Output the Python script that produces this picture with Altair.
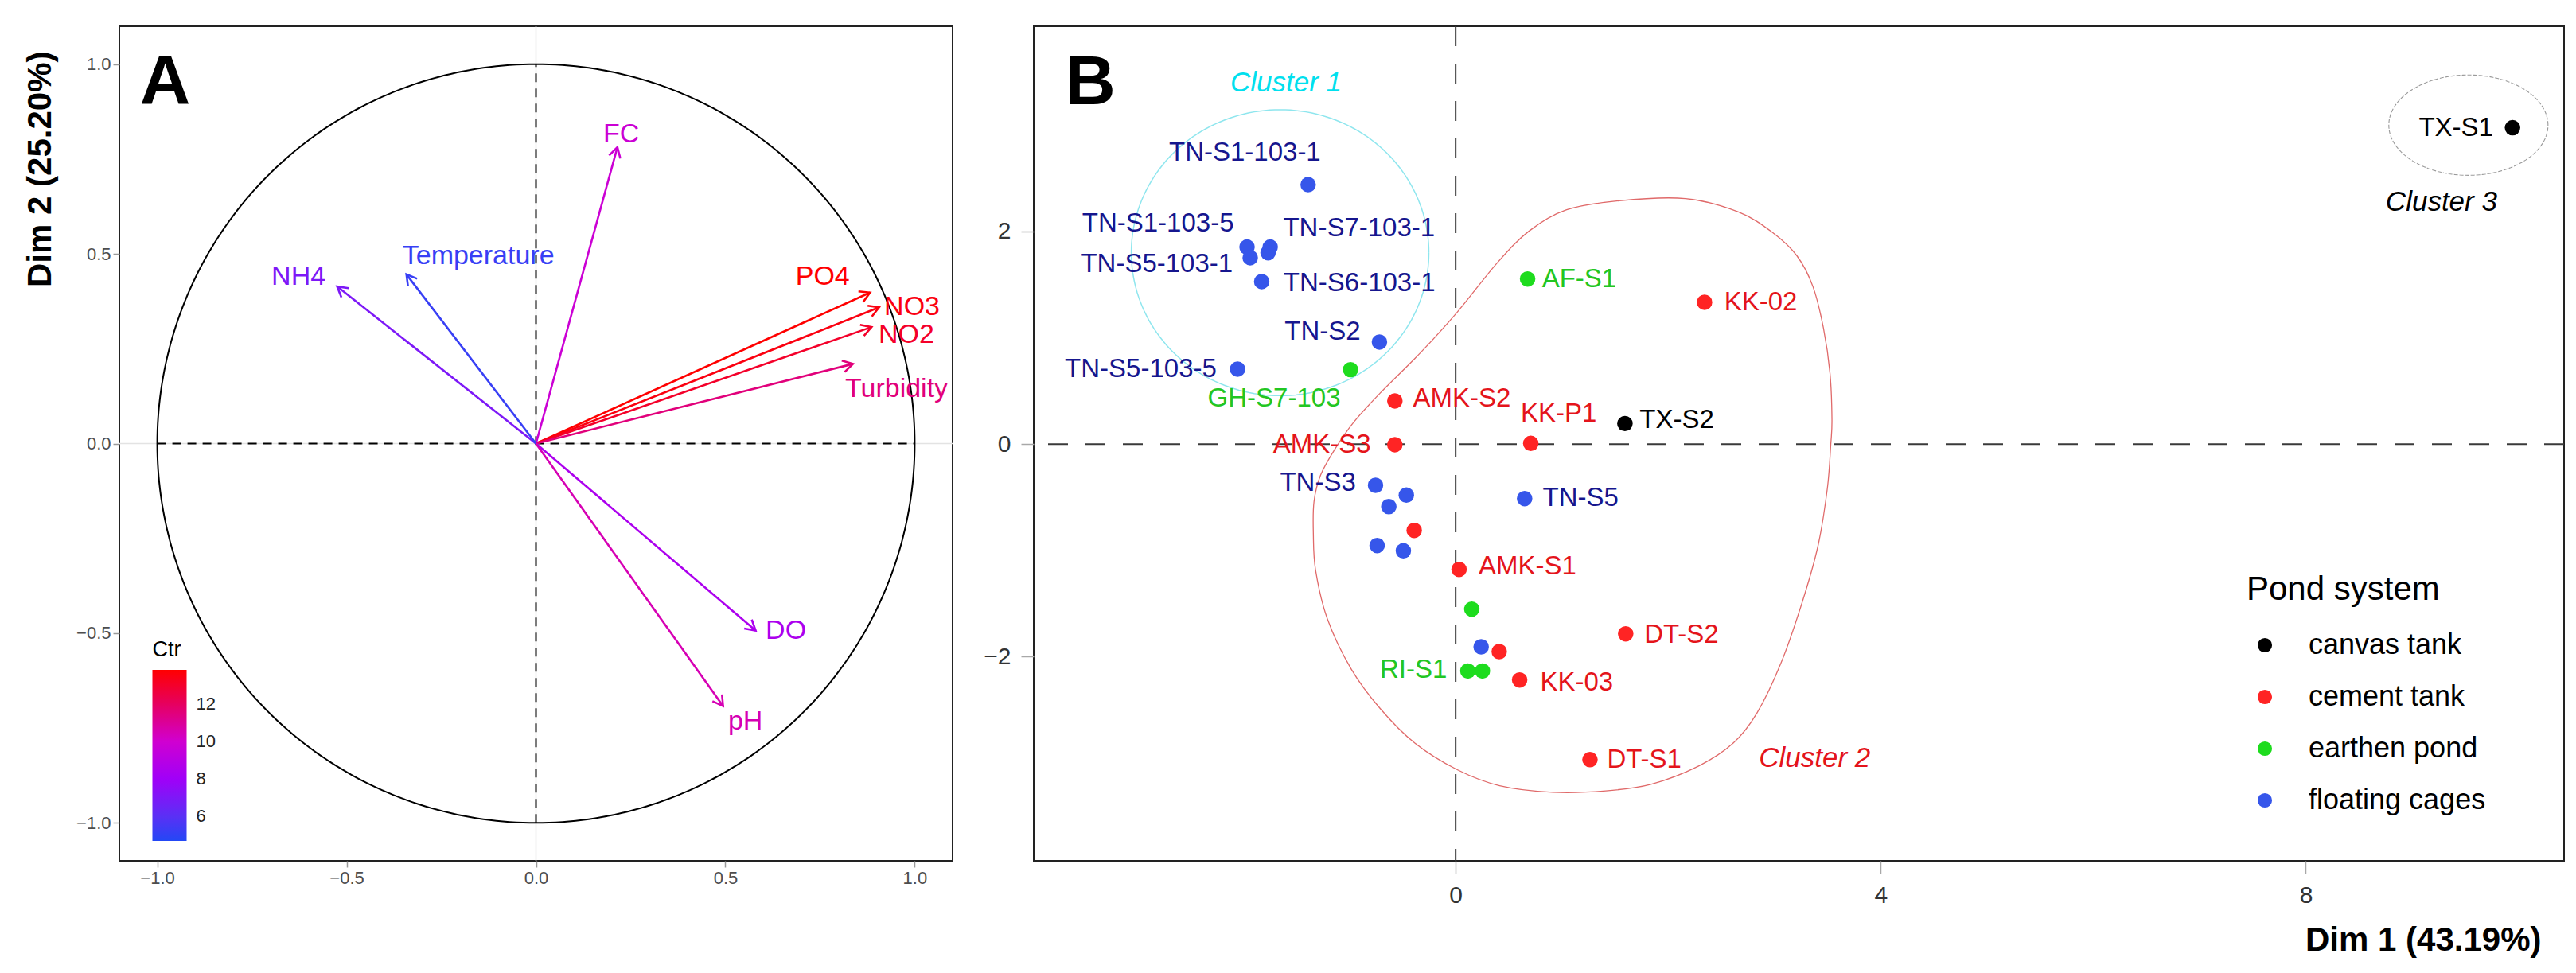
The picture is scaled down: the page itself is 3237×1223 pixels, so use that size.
import numpy as np
import pandas as pd
import altair as alt

FONT = "Liberation Sans"

# ---------------- Panel A : variables (correlation circle) ----------------
var_names = ["FC", "NH4", "Temperature", "PO4", "NO3", "NO2", "Turbidity", "DO", "pH"]
var_dim1 = [0.215, -0.525, -0.342, 0.882, 0.906, 0.886, 0.837, 0.580, 0.494]
var_dim2 = [0.781, 0.414, 0.446, 0.398, 0.359, 0.307, 0.210, -0.493, -0.692]
var_ctr = [9.8, 7.0, 5.2, 13.8, 13.5, 13.0, 11.5, 8.5, 10.5]
var_lab_x = [0.225, -0.627, -0.152, 0.757, 0.993, 0.978, 0.952, 0.660, 0.553]
var_lab_y = [0.815, 0.439, 0.494, 0.439, 0.360, 0.286, 0.144, -0.493, -0.733]
ctr_ticks = [6, 8, 10, 12]
ctr_stops = [4.7, 6, 8, 10, 12, 13.8]
ctr_colors = ["#2348F5", "#5A30F5", "#A000F8", "#D000D0", "#E6005E", "#FF0000"]
axisA_ticks = [-1.0, -0.5, 0.0, 0.5, 1.0]

# ---------------- Panel B : individuals ----------------
sample_names = ["TX-S1", "TX-S2",
                "KK-02", "AMK-S2", "AMK-S3", "KK-P1", "", "AMK-S1", "", "KK-03", "DT-S2", "DT-S1",
                "AF-S1", "GH-S7-103", "", "RI-S1", "",
                "TN-S1-103-1", "TN-S1-103-5", "TN-S5-103-1", "TN-S7-103-1", "", "TN-S6-103-1",
                "TN-S2", "TN-S5-103-5", "TN-S3", "", "", "TN-S5", "", "", ""]
sample_system = (["canvas tank"] * 2 + ["cement tank"] * 10 + ["earthen pond"] * 5
                 + ["floating cages"] * 15)
sample_dim1 = [9.945, 1.593,
               2.342, -0.572, -0.572, 0.707, -0.390, 0.032, 0.410, 0.602, 1.600, 1.264,
               0.677, -0.989, 0.152, 0.115, 0.252,
               -1.388, -1.963, -1.933, -1.745, -1.765, -1.825, -0.717, -2.052, -0.754,
               -0.464, -0.629, 0.649, -0.739, -0.492, 0.240]
sample_dim2 = [2.975, 0.193,
               1.334, 0.406, -0.006, 0.006, -0.812, -1.179, -1.952, -2.219, -1.785, -2.968,
               1.553, 0.700, -1.553, -2.135, -2.135,
               2.440, 1.853, 1.753, 1.853, 1.800, 1.528, 0.960, 0.705, -0.388,
               -0.480, -0.588, -0.513, -0.954, -1.004, -1.907]

label_names = ["TN-S1-103-1", "TN-S1-103-5", "TN-S7-103-1", "TN-S5-103-1", "TN-S6-103-1",
               "TN-S2", "TN-S5-103-5", "GH-S7-103", "AF-S1", "KK-02", "AMK-S2", "KK-P1",
               "TX-S2", "AMK-S3", "TN-S3", "TN-S5", "AMK-S1", "DT-S2", "RI-S1", "KK-03",
               "DT-S1", "TX-S1"]
label_system = ["floating cages"] * 7 + ["earthen pond", "earthen pond", "cement tank",
                "cement tank", "cement tank", "canvas tank", "cement tank", "floating cages",
                "floating cages", "cement tank", "cement tank", "earthen pond", "cement tank",
                "cement tank", "canvas tank"]
label_x = [-1.983, -2.801, -0.909, -2.811, -0.906, -1.252, -2.963, -1.708, 1.163, 2.871,
           0.058, 0.970, 2.081, -1.258, -1.296, 1.176, 0.676, 2.125, -0.397, 1.139, 1.775, 9.413]
label_y = [2.738, 2.077, 2.027, 1.690, 1.516, 1.054, 0.705, 0.430, 1.553, 1.334,
           0.430, 0.286, 0.224, -0.006, -0.368, -0.505, -1.154, -1.793, -2.127, -2.240,
           -2.968, 2.975]

cluster_names = ["Cluster 1", "Cluster 2", "Cluster 3"]
cluster_lab_x = [-1.596, 3.378, 9.276]
cluster_lab_y = [3.402, -2.957, 2.279]

# traced outline of cluster 2
cluster2_x = [0.015, 0.390, 0.689, 1.039, 1.538, 2.163, 2.661, 2.987, 3.211, 3.361, 3.461,
              3.523, 3.541, 3.530, 3.498, 3.411, 3.261, 3.061, 2.837, 2.612, 2.287, 1.837,
              1.413, 0.914, 0.414, 0.015, -0.384, -0.709, -0.983, -1.208, -1.318, -1.339,
              -1.333, -1.271, -1.133, -0.959, -0.709, -0.335]
cluster2_y = [1.241, 1.703, 2.002, 2.202, 2.289, 2.309, 2.183, 1.986, 1.771, 1.484, 1.091,
              0.661, 0.231, -0.002, -0.414, -0.951, -1.488, -2.061, -2.527, -2.813, -3.028,
              -3.200, -3.262, -3.275, -3.213, -3.063, -2.813, -2.489, -2.115, -1.641, -1.186,
              -0.842, -0.543, -0.293, -0.043, 0.206, 0.481, 0.855]
# ellipses of clusters 1 and 3: centre x, centre y, radius x, radius y
cluster1_ellipse = [-1.652, 1.800, 1.400, 1.345]
cluster3_ellipse = [9.530, 3.000, 0.749, 0.472]

systems = ["canvas tank", "cement tank", "earthen pond", "floating cages"]
point_colors = ["#000000", "#FF2424", "#1EDC1E", "#3656EA"]
text_colors = ["#000000", "#E4141B", "#22C622", "#16168E"]

# ======================= build panel A =======================
WA, HA = 1047, 1049
xA = alt.Scale(domain=[-1.1, 1.1], nice=False, zero=False)
yA = alt.Scale(domain=[-1.1, 1.1], nice=False, zero=False)
axA_x = alt.Axis(values=axisA_ticks, format=".1f", title=None, grid=False, domain=False,
                 labelFont=FONT, labelFontSize=22, labelColor="#4D4D4D",
                 tickColor="#9A9A9A", tickSize=8, tickWidth=1.5, labelPadding=3)
axA_y = alt.Axis(values=axisA_ticks, format=".1f", title="Dim 2 (25.20%)", grid=False,
                 domain=False, labelFont=FONT, labelFontSize=22, labelColor="#4D4D4D",
                 tickColor="#9A9A9A", tickSize=8, tickWidth=1.5, labelPadding=3,
                 titleFont=FONT, titleFontSize=42, titleFontWeight="bold", titleColor="black",
                 titleAngle=270, titleAlign="right", titleBaseline="middle",
                 titleX=-100, titleY=31)


def XA(f):
    return alt.X(f, type="quantitative", scale=xA, axis=axA_x)


def YA(f):
    return alt.Y(f, type="quantitative", scale=yA, axis=axA_y)


dfA = pd.DataFrame({"name": var_names, "dim1": var_dim1, "dim2": var_dim2, "ctr": var_ctr,
                    "lx": var_lab_x, "ly": var_lab_y})
dfA["ox"] = 0.0
dfA["oy"] = 0.0
dfA["ang"] = (np.degrees(np.arctan2(dfA["dim1"], dfA["dim2"])) + 360.0) % 360.0

theta = np.linspace(0, 2 * np.pi, 361)
circle_df = pd.DataFrame({"cx": np.cos(theta), "cy": np.sin(theta), "k": np.arange(361)})
zeroA = pd.DataFrame({"z": [0.0], "a": [-1.0], "b": [1.0]})


def ctr_scale():
    return alt.Scale(domain=ctr_stops, range=ctr_colors, interpolate="rgb")


legA = alt.Legend(title="Ctr", type="gradient", orient="none", legendX=41.5, legendY=771,
                  direction="vertical", gradientLength=215, gradientThickness=43,
                  gradientStrokeWidth=0, values=ctr_ticks, titleFont=FONT, titleFontSize=27,
                  titleFontWeight="normal", titleColor="black", titlePadding=11,
                  labelFont=FONT, labelFontSize=22, labelColor="#222222", labelOffset=12,
                  padding=0)

gridA_v = alt.Chart(zeroA).mark_rule(color="#E3E3E3", strokeWidth=1.5).encode(x=XA("z"))
gridA_h = alt.Chart(zeroA).mark_rule(color="#E3E3E3", strokeWidth=1.5).encode(y=YA("z"))
dashA_h = alt.Chart(zeroA).mark_rule(color="black", strokeWidth=2, strokeDash=[11, 8]).encode(
    x=XA("a"), x2="b:Q", y=YA("z"))
dashA_v = alt.Chart(zeroA).mark_rule(color="black", strokeWidth=2, strokeDash=[11, 8]).encode(
    y=YA("a"), y2="b:Q", x=XA("z"))
circleA = alt.Chart(circle_df).mark_line(color="black", strokeWidth=2).encode(
    x=XA("cx"), y=YA("cy"), order="k:Q")
arrowsA = alt.Chart(dfA).mark_rule(strokeWidth=2.6).encode(
    x=XA("dim1"), y=YA("dim2"), x2="ox:Q", y2="oy:Q",
    color=alt.Color("ctr:Q", scale=ctr_scale(), legend=legA))
headsA = alt.Chart(dfA).mark_point(shape="M -0.58 1 L 0 0 L 0.58 1", filled=False, size=640,
                                   strokeWidth=2.6, opacity=1).encode(
    x=XA("dim1"), y=YA("dim2"), angle=alt.Angle("ang:Q", scale=None),
    color=alt.Color("ctr:Q", scale=ctr_scale(), legend=None))
labelsA = alt.Chart(dfA).mark_text(font=FONT, fontSize=34, align="center",
                                   baseline="middle").encode(
    x=XA("lx"), y=YA("ly"), text="name:N",
    color=alt.Color("ctr:Q", scale=ctr_scale(), legend=None))
tagA = alt.Chart(pd.DataFrame({"t": ["A"], "x": [-0.979], "y": [0.896]})).mark_text(
    font=FONT, fontSize=88, fontWeight="bold", align="center", baseline="alphabetic",
    color="black").encode(x=XA("x"), y=YA("y"), text="t:N")

panelA = alt.layer(gridA_v, gridA_h, circleA, dashA_h, dashA_v, arrowsA, headsA, labelsA,
                   tagA).resolve_scale(color="independent").properties(width=WA, height=HA)

# ======================= build panel B =======================
WB, HB = 1923, 1049
xB = alt.Scale(domain=[-3.97, 10.43], nice=False, zero=False)
yB = alt.Scale(domain=[-3.92, 3.93], nice=False, zero=False)
axB_x = alt.Axis(values=[0, 4, 8], format="d", title="Dim 1 (43.19%)", grid=False,
                 domain=False, labelFont=FONT, labelFontSize=30, labelColor="#333333",
                 tickColor="#A8A8A8", tickSize=16, tickWidth=1.5, labelPadding=12,
                 titleFont=FONT, titleFontSize=42, titleFontWeight="bold", titleColor="black",
                 titleAlign="right", titleBaseline="middle", titleX=1894, titleY=99)
axB_y = alt.Axis(values=[-2, 0, 2], format="d", title=None, grid=False, domain=False,
                 labelFont=FONT, labelFontSize=30, labelColor="#333333",
                 tickColor="#A8A8A8", tickSize=16, tickWidth=1.5, labelPadding=13)


def XB(f):
    return alt.X(f, type="quantitative", scale=xB, axis=axB_x)


def YB(f):
    return alt.Y(f, type="quantitative", scale=yB, axis=axB_y)


dfB = pd.DataFrame({"name": sample_names, "system": sample_system, "dim1": sample_dim1,
                    "dim2": sample_dim2})
dfLab = pd.DataFrame({"name": label_names, "system": label_system, "lx": label_x,
                      "ly": label_y})
dfClu = pd.DataFrame({"name": cluster_names, "x": cluster_lab_x, "y": cluster_lab_y})
dfC2 = pd.DataFrame({"x": cluster2_x, "y": cluster2_y, "k": np.arange(len(cluster2_x))})


def ellipse_df(params):
    t = np.linspace(0, 2 * np.pi, 181)
    return pd.DataFrame({"x": params[0] + params[2] * np.cos(t),
                         "y": params[1] + params[3] * np.sin(t), "k": np.arange(181)})


zeroB = pd.DataFrame({"z": [0.0]})
legB = alt.Legend(title="Pond system", orient="none", legendX=1524, legendY=688,
                  titleFont=FONT, titleFontSize=42, titleFontWeight="normal", titleColor="black",
                  titlePadding=30, titleLimit=600, labelFont=FONT, labelFontSize=36,
                  labelColor="black", labelLimit=600,
                  symbolType="circle", symbolSize=330, symbolStrokeWidth=0, symbolOffset=5,
                  labelOffset=37, rowPadding=29, padding=0)

dashB_v = alt.Chart(zeroB).mark_rule(color="#3A3A3A", strokeWidth=2, strokeDash=[25, 22]).encode(
    x=XB("z"))
dashB_h = alt.Chart(zeroB).mark_rule(color="#3A3A3A", strokeWidth=2, strokeDash=[25, 22]).encode(
    y=YB("z"))
clu1 = alt.Chart(ellipse_df(cluster1_ellipse)).mark_line(color="#8FE6EE", strokeWidth=1.5).encode(
    x=XB("x"), y=YB("y"), order="k:Q")
clu2 = alt.Chart(dfC2).mark_line(color="#E06A6A", strokeWidth=1.3,
                                 interpolate="cardinal-closed").encode(
    x=XB("x"), y=YB("y"), order="k:Q")
clu3 = alt.Chart(ellipse_df(cluster3_ellipse)).mark_line(color="#9A9A9A", strokeWidth=1.1,
                                                         strokeDash=[5, 2]).encode(
    x=XB("x"), y=YB("y"), order="k:Q")
pointsB = alt.Chart(dfB).mark_circle(size=380, opacity=1).encode(
    x=XB("dim1"), y=YB("dim2"),
    color=alt.Color("system:N", scale=alt.Scale(domain=systems, range=point_colors),
                    legend=legB))
labelsB = alt.Chart(dfLab).mark_text(font=FONT, fontSize=33, align="center",
                                     baseline="middle").encode(
    x=XB("lx"), y=YB("ly"), text="name:N",
    color=alt.Color("system:N", scale=alt.Scale(domain=systems, range=text_colors),
                    legend=None))
clusterLab = alt.Chart(dfClu).mark_text(font=FONT, fontSize=35, fontStyle="italic",
                                        align="center", baseline="middle").encode(
    x=XB("x"), y=YB("y"), text="name:N",
    color=alt.Color("name:N", scale=alt.Scale(domain=cluster_names,
                                              range=["#00E0EE", "#E4141B", "#000000"]),
                    legend=None))
tagB = alt.Chart(pd.DataFrame({"t": ["B"], "x": [-3.438], "y": [3.200]})).mark_text(
    font=FONT, fontSize=88, fontWeight="bold", align="center", baseline="alphabetic",
    color="black").encode(x=XB("x"), y=YB("y"), text="t:N")

panelB = alt.layer(dashB_v, dashB_h, clu1, clu2, clu3, pointsB, labelsB, clusterLab,
                   tagB).resolve_scale(color="independent").properties(width=WB, height=HB)

chart = alt.hconcat(panelA, panelB, spacing=102, bounds="flush").resolve_scale(
    color="independent").properties(
    padding={"left": 20, "top": 23, "right": 5, "bottom": 5},
    background="white").configure_view(stroke="#222222", strokeWidth=2)

chart.save("out.html", embed_options={"renderer": "svg", "actions": False})
